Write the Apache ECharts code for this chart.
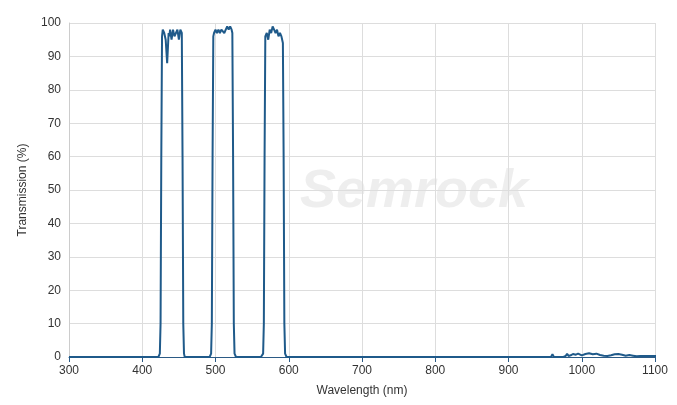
<!DOCTYPE html><html><head><meta charset="utf-8"><script src="https://cdn.jsdelivr.net/npm/echarts@6/dist/echarts.min.js"></script></head><body style="margin:0"><div id="c" style="width:677px;height:405px"></div><script>
const wavelengths=[300,422,424,425,426,427,428,430,432,434,436,437,438,440,442,444,446,448,450,452,454,455,456,457,458,460,492,494,495,496,497,498,500,502,504,506,508,510,512,514,516,518,520,522,523,524,525,526,528,562,564,565,566,567,568,570,572,574,576,578,580,582,584,586,588,590,592,593,594,595,597,700,930,938,940,942,955,958,960,962,975,978,980,982,985,988,990,992,995,1000,1005,1010,1015,1020,1025,1030,1035,1040,1045,1050,1055,1060,1065,1070,1075,1080,1085,1090,1100,1107];
const transmission=[0,0,1,10,60,96,98,97,95,88,97,96,98,95,98,96,97,98,95,98,97,60,10,1,0,0,0,1,10,60,96,97,98,97,98,97,98,98,97,98,99,98,99,98,97,60,10,1,0,0,0,1,10,60,96,97,95,98,97,99,98,97,98,96,97,96,94,60,10,1,0,0,0,0,0.4,0,0,0,0.8,0,0,0.3,1,0.3,0.5,0.9,0.4,0.7,1,0.5,0.9,1.1,0.8,1,0.6,0.4,0.3,0.5,0.8,0.9,0.7,0.4,0.6,0.4,0.2,0.3,0.3,0.3,0.3,0.3];
const xTicks=[300,400,500,600,700,800,900,1000,1100];
const yTicks=[0,10,20,30,40,50,60,70,80,90,100];
const ch=echarts.init(document.getElementById('c'));
ch.setOption({animation:false,
grid:{left:69,right:22,top:23,bottom:48},
graphic:[{type:'text',left:300,top:165,style:{text:'Semrock',font:'italic bold 54px Arial',fill:'rgba(200,200,200,0.3)'}}],
xAxis:{type:'value',min:300,max:1100,interval:100,name:'Wavelength (nm)',nameLocation:'middle',nameGap:28,nameTextStyle:{fontFamily:'Arial',fontSize:12,color:'#333'},
axisLine:{lineStyle:{color:'#2b5a85'}},axisTick:{show:true,lineStyle:{color:'#2b5a85'}},axisLabel:{color:'#333',fontFamily:'Arial',fontSize:12,formatter:v=>String(v)},splitLine:{lineStyle:{color:'#ddd'}}},
yAxis:{type:'value',min:0,max:100,interval:10,name:'Transmission (%)',nameLocation:'middle',nameGap:40,nameTextStyle:{fontFamily:'Arial',fontSize:12,color:'#333'},
axisLine:{show:true,lineStyle:{color:'#ccc'}},axisTick:{show:false},axisLabel:{color:'#333',fontFamily:'Arial',fontSize:12},splitLine:{lineStyle:{color:'#ddd'}}},
series:[{type:'line',data:wavelengths.map((w,i)=>[w,transmission[i]]),showSymbol:false,clip:false,lineStyle:{color:'#1f5a8a',width:2}}]});
</script></body></html>
